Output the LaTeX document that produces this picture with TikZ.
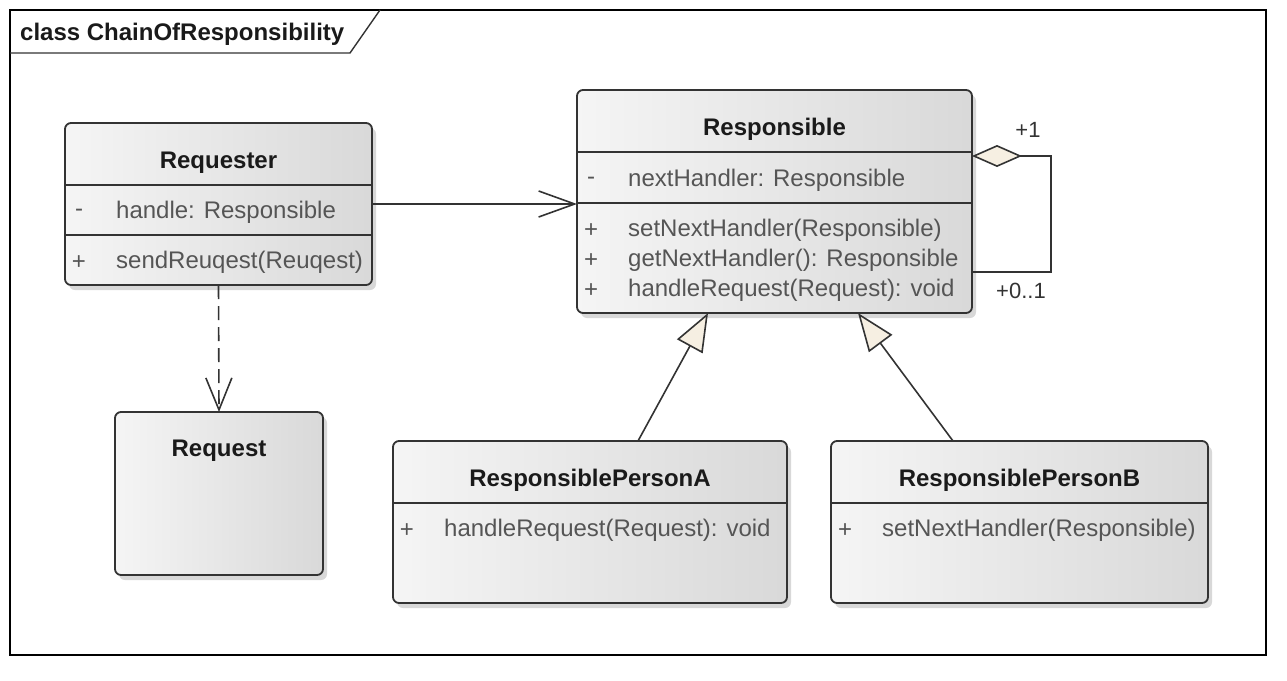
\documentclass[tikz,border=0pt]{standalone}
\usepackage{fontspec}
\setmainfont{Liberation Sans}
\usetikzlibrary{arrows.meta,shadows}

\definecolor{umlline}{HTML}{333333}
\definecolor{umltext}{HTML}{555555}
\definecolor{umltitle}{HTML}{1A1A1A}
\definecolor{umlfill}{HTML}{F6EFE2}

\tikzset{
  frame/.style={draw=black, line width=2pt},
  tab/.style={draw=black!80, line width=1.4pt},
  classbox/.style={draw=umlline, line width=1.8pt, rounded corners=6pt,
    inner sep=0pt, outer sep=0pt,
    left color=black!4, middle color=white, right color=black!15,
    drop shadow={shadow xshift=4pt, shadow yshift=-5pt, opacity=0.22, fill=black!70}},
  sep/.style={draw=umlline, line width=1.8pt},
  classname/.style={font=\fontsize{24}{28}\selectfont\bfseries, text=umltitle, yshift=-2.5pt},
  member/.style={font=\fontsize{24}{28}\selectfont, text=umltext, anchor=west, inner sep=0pt, yshift=-2.5pt},
  vis/.style={font=\fontsize{24}{28}\selectfont, text=umltext, inner sep=0pt, yshift=-2.5pt},
  mult/.style={font=\fontsize{22}{26}\selectfont, text=umlline},
  assoc/.style={draw=umlline, line width=1.6pt, -{Straight Barb[length=36pt, width=26pt]}},
  depend/.style={draw=umlline, line width=1.6pt, dash pattern=on 14pt off 7pt,
    -{Straight Barb[length=32pt, width=26pt]}},
  general/.style={draw=umlline, line width=1.6pt, -{Triangle[length=38pt, width=29pt, fill=umlfill]}},
  aggreg/.style={draw=umlline, line width=1.6pt, -{Diamond[length=50pt, width=22pt, fill=umlfill]}}
}

\begin{document}
\begin{tikzpicture}[x=1pt, y=-1pt]
\useasboundingbox (0,0) rectangle (1287,680);

% frame
\draw[frame] (10,10) rectangle (1266,655);
\draw[tab] (10,53) -- (350,53) -- (380,10);
\node[classname, anchor=west, inner sep=0pt] (frametitle) at (20,32) {class ChainOfResponsibility};

% classes
\node[classbox, minimum width=307pt, minimum height=162pt] (requester) at (218.5,204) {};
\node[classbox, minimum width=395pt, minimum height=223pt] (responsible) at (774.5,201.5) {};
\node[classbox, minimum width=208pt, minimum height=163pt] (request) at (219,493.5) {};
\node[classbox, minimum width=394pt, minimum height=162pt] (personA) at (590,522) {};
\node[classbox, minimum width=377pt, minimum height=162pt] (personB) at (1019.5,522) {};

\foreach \n/\y in {requester/185, requester/235, responsible/152, responsible/203, personA/503, personB/503}
    \draw[sep] (\n.west |- 0,\y) -- (\n.east |- 0,\y);

\foreach \n/\y/\t in {requester/160/Requester, responsible/127/Responsible, request/448/Request,
                      personA/478/ResponsiblePersonA, personB/478/ResponsiblePersonB}
    \node[classname] (\n-name) at (\n.center |- 0,\y) {\t};

\foreach \n/\y/\v/\t [count=\i] in {requester/210/-/{handle: Responsible},
                                    requester/260/+/{sendReuqest(Reuqest)},
                                    responsible/178/-/{nextHandler: Responsible},
                                    responsible/228/+/{setNextHandler(Responsible)},
                                    responsible/258/+/{getNextHandler(): Responsible},
                                    responsible/288/+/{handleRequest(Request): void},
                                    personA/528/+/{handleRequest(Request): void},
                                    personB/528/+/{setNextHandler(Responsible)}}
{
    \node[vis] (vis\i) at ([xshift=14pt]\n.west |- 0,\y) {\v};
    \node[member] (member\i) at ([xshift=51pt]\n.west |- 0,\y) {\t};
}

% relations
\coordinate (loop) at (1051,156);
\draw[assoc] (requester.east) -- (requester.east -| responsible.west);
\draw[depend] (requester.south) -- (request.north);
\draw[general] ([xshift=48pt]personA.north) -- ([xshift=-66.5pt]responsible.south);
\draw[general] ([xshift=-66.5pt]personB.north) -- ([xshift=83.5pt]responsible.south);
\draw[aggreg] (responsible.east |- 0,272) -| (loop) -- (responsible.east |- loop);

\node[mult] (multone) at (1028,130) {+1};
\node[mult] (multzero) at (1021,291) {+0..1};

\end{tikzpicture}
\end{document}
